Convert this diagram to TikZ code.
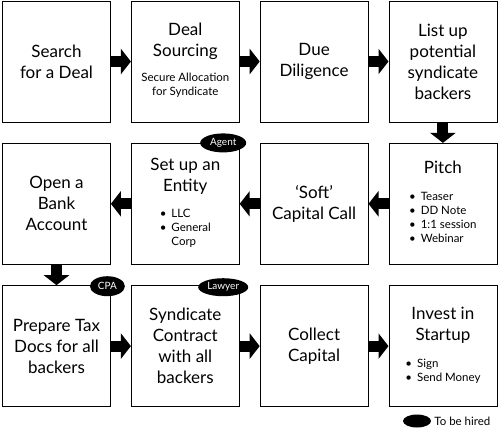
\documentclass[tikz,border=0pt]{standalone}
\usepackage{fontspec}
\setmainfont{Lato}
\usetikzlibrary{positioning}
\usetikzlibrary{shapes.geometric}
\usetikzlibrary{arrows.meta}
\tikzset{step box/.style={rectangle,draw,line width=0.8pt,minimum width=108pt,minimum height=121pt,inner sep=0pt,align=center,font=\fontsize{17}{21}\selectfont},}
\tikzset{hire badge/.style={ellipse,fill=black,text=white,inner sep=0pt,font=\fontsize{10}{12}\selectfont},}
\tikzset{flow arrow/.style={line width=11pt,-{Triangle[length=10pt,width=25pt]}},}
\newcommand{\subblock}[1]{\fontsize{11.5}{13.7}\selectfont\begin{tabular}[t]{@{}c@{}}#1\end{tabular}}
\newcommand{\bulletblock}[1]{\fontsize{11.5}{13.7}\selectfont\begin{tabular}[t]{@{}l@{\hspace{5pt}}l@{}}#1\end{tabular}}

\begin{document}
\begin{tikzpicture}
     \useasboundingbox (0,0) rectangle (500pt,-437pt);

     % first row
     \node[step box] (search) at (56.5pt,-61.5pt) {Search\\for a Deal};
     \node[step box] (sourcing) [right = 20pt of search] {Deal\\Sourcing\\[4pt]\subblock{Secure Allocation\\for Syndicate}};
     \node[step box] (diligence) [right = 20pt of sourcing] {Due\\Diligence};
     \node[step box] (listup) [right = 20pt of diligence] {List up\\potential\\syndicate\\backers};

     % second row, right to left
     \node[step box] (pitch) [below = 20.5pt of listup] {Pitch\\[6pt]\bulletblock{\textbullet & Teaser\\ \textbullet & DD Note\\ \textbullet & 1:1 session\\ \textbullet & Webinar}};
     \node[step box] (soft) [left = 20pt of pitch] {‘Soft’\\Capital Call};
     \node[step box] (entity) [left = 20pt of soft] {Set up an\\Entity\\[5pt]\bulletblock{\textbullet & LLC\\ \textbullet & General\\ & Corp}};
     \node[step box] (bank) [left = 20pt of entity] {Open a\\Bank\\Account};

     % third row
     \node[step box] (taxdocs) [below = 20.5pt of bank] {Prepare Tax\\Docs for all\\backers};
     \node[step box] (contract) [right = 20pt of taxdocs] {Syndicate\\Contract\\with all\\backers};
     \node[step box] (collect) [right = 20pt of contract] {Collect\\Capital};
     \node[step box] (invest) [right = 20pt of collect] {Invest in\\Startup\\[6pt]\bulletblock{\textbullet & Sign\\ \textbullet & Send Money}};

     \path[flow arrow]
     (search) edge (sourcing)
     (sourcing) edge (diligence)
     (diligence) edge (listup)
     (listup) edge (pitch)
     (pitch) edge (soft)
     (soft) edge (entity)
     (entity) edge (bank)
     (bank) edge (taxdocs)
     (taxdocs) edge (contract)
     (contract) edge (collect)
     (collect) edge (invest);

     % people to be hired
     \node[hire badge, minimum width=46pt, minimum height=19pt] (agent) at ([xshift=-16.5pt]entity.north east) {Agent};
     \node[hire badge, minimum width=35pt, minimum height=20pt] (cpa) at ([xshift=-3.5pt,yshift=-1pt]taxdocs.north east) {CPA};
     \node[hire badge, minimum width=50pt, minimum height=18pt] (lawyer) at ([xshift=-16.5pt,yshift=-2pt]contract.north east) {Lawyer};

     \node[hire badge, minimum width=28pt, minimum height=13pt] (legend) at (417pt,-421pt) {};
     \node[font=\fontsize{11.5}{13.7}\selectfont, inner sep=0pt] (legendtext) [right = 3pt of legend] {To be hired};
  \end{tikzpicture}
\end{document}
